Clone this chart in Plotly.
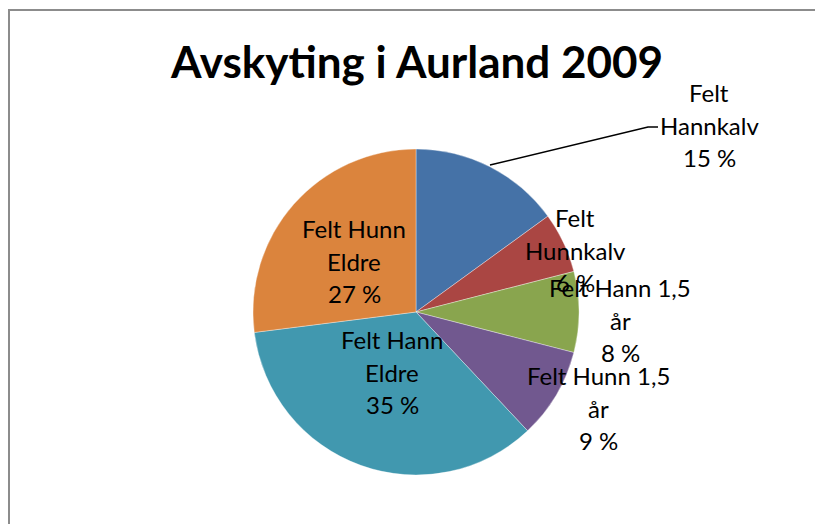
import plotly.graph_objects as go

# ---- data ----
categories = ["Felt Hannkalv", "Felt Hunnkalv", "Felt Hann 1,5 år",
              "Felt Hunn 1,5 år", "Felt Hann Eldre", "Felt Hunn Eldre"]
values = [15, 6, 8, 9, 35, 27]
label_lines = [["Felt", "Hannkalv"], ["Felt", "Hunnkalv"], ["Felt Hann 1,5", "år"],
               ["Felt Hunn 1,5", "år"], ["Felt Hann", "Eldre"], ["Felt Hunn", "Eldre"]]
title_text = "Avskyting i Aurland 2009"

# ---- style / layout ----
colors = ["#4572A7", "#AA4643", "#89A54E", "#71588F", "#4198AF", "#DB843D"]
W, H = 815, 524
cx, cy, R = 416, 312, 163
label_pos = [(709, 125), (575, 250), (620, 320), (598, 408), (392, 372), (354, 261)]
line_gap = 32.5
FONT = "Lato"


def px(x):
    return x / W


def py(y):
    return 1 - y / H


fig = go.Figure(go.Pie(
    labels=categories, values=values, sort=False, direction="clockwise",
    rotation=0, textinfo="none", hoverinfo="label+percent",
    marker=dict(colors=colors, line=dict(color="rgba(255,255,255,0.6)", width=0.6)),
    domain=dict(x=[px(cx - R), px(cx + R)], y=[py(cy + R), py(cy - R)]),
    showlegend=False,
))

annotations = []
for lines, v, (lx, ly) in zip(label_lines, values, label_pos):
    all_lines = lines + [f"{v} %"]
    n = len(all_lines)
    for i, t in enumerate(all_lines):
        yy = ly + (i - (n - 1) / 2) * line_gap
        annotations.append(dict(
            x=px(lx), y=py(yy), xref="paper", yref="paper", text=t,
            showarrow=False, xanchor="center", yanchor="middle",
            font=dict(family=FONT, size=24, color="#000000")))

annotations.append(dict(
    x=px(416), y=py(61), xref="paper", yref="paper", text=f"<b>{title_text}</b>",
    showarrow=False, xanchor="center", yanchor="middle",
    font=dict(family=FONT, size=44, color="#000000")))

shapes = [
    dict(type="path", xref="paper", yref="paper",
         path=f"M {px(490)} {py(165)} L {px(648)} {py(127)} L {px(658)} {py(127)}",
         line=dict(color="#000000", width=1.5)),
    dict(type="line", xref="paper", yref="paper", x0=px(8), x1=1.0, y0=py(10), y1=py(10),
         line=dict(color="#8c8c8c", width=2)),
    dict(type="line", xref="paper", yref="paper", x0=px(9), x1=px(9), y0=py(10), y1=0,
         line=dict(color="#8c8c8c", width=2)),
]

fig.update_layout(
    width=W, height=H, margin=dict(l=0, r=0, t=0, b=0),
    paper_bgcolor="white", plot_bgcolor="white",
    annotations=annotations, shapes=shapes,
)
fig.write_html(
    "out.html",
    config={"displayModeBar": False},
    post_script="document.body.style.margin='0';document.body.style.overflow='hidden';"
                "document.documentElement.style.overflow='hidden';",
)
